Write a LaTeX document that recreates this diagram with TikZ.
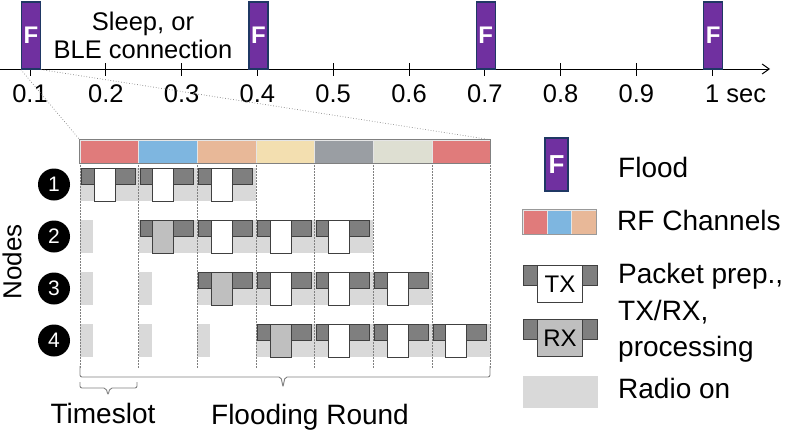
\documentclass[tikz,border=0pt]{standalone}
\usepackage{fontspec}
\setmainfont{Liberation Sans}
\usetikzlibrary{positioning,arrows.meta}

\definecolor{floodpurple}{HTML}{7030A0}
\definecolor{floodnavy}{HTML}{1F3864}
\definecolor{chred}{HTML}{E07B7B}
\definecolor{chblue}{HTML}{7EB6E0}
\definecolor{chpeach}{HTML}{E8B898}
\definecolor{chyellow}{HTML}{F3DFB0}
\definecolor{chgray}{HTML}{9A9EA3}
\definecolor{chlight}{HTML}{DEDFD2}
\definecolor{procgray}{HTML}{7F7F7F}
\definecolor{rxgray}{HTML}{BFBFBF}
\definecolor{radiogray}{HTML}{D9D9D9}
\definecolor{edgegray}{HTML}{404040}

\begin{document}
\begin{tikzpicture}[x=1pt, y=-1pt, every node/.style={inner sep=0pt},
    flood/.style={draw=floodnavy, line width=1.2pt, fill=floodpurple, text=white,
        minimum width=19pt, minimum height=67pt, font=\fontsize{24}{24}\selectfont\bfseries},
    chan/.style={draw=white!80!gray, line width=0.5pt, minimum width=58.65pt, minimum height=23pt},
    tile/.style={draw=edgegray, line width=0.9pt},
    slotline/.style={draw=gray, line width=0.7pt, dash pattern=on 2pt off 1pt},
    bracket/.style={draw=gray, line width=0.9pt, rounded corners=2pt},
    nodenum/.style={circle, fill=black, text=white, minimum size=32pt, font=\fontsize{21}{21}\selectfont},
    txt/.style={font=\fontsize{28}{36.5}\selectfont}]
\useasboundingbox (0,0) rectangle (789,432);

% time axis with floods
\draw[line width=1pt, -{Straight Barb[length=7pt,width=10pt]}] (0,69) -- (770,69);
\foreach \i/\lbl in {1/0.1,2/0.2,3/0.3,4/0.4,5/0.5,6/0.6,7/0.7,8/0.8,9/0.9,10/{1\rlap{ sec}}} {
    \pgfmathsetmacro{\x}{30+75.8*(\i-1)}
    \draw[line width=1pt] (\x,63) -- (\x,76);
    \node[anchor=base, font=\fontsize{25.5}{25.5}\selectfont] (T\i) at (\x,102) {\lbl};
}
\foreach \i in {1,4,7,10} {
    \pgfmathsetmacro{\x}{31+75.8*(\i-1)}
    \node[flood] (F\i) at (\x,35.5) {F};
}
\node[align=center, font=\fontsize{25.5}{28}\selectfont] (sleep) at (143,35) {Sleep, or\\BLE connection};

% channel bar
\foreach \c [count=\k] in {chred,chblue,chpeach,chyellow,chgray,chlight,chred} {
    \pgfmathsetmacro{\x}{80+58.65*(\k-0.5)}
    \node[chan, fill=\c] (C\k) at (\x,151.5) {};
}
\draw[gray, line width=1.2pt] (C1.north west) rectangle (C7.south east);
\draw[gray, dotted, line width=0.7pt] (F1.south west) -- (C1.north west);
\draw[gray, dotted, line width=0.7pt] (F1.south east) -- (C7.north east);

% radio on
\foreach \r/\last in {1/3,2/5,3/6,4/7} {
    \pgfmathsetmacro{\y}{168+52*(\r-1)}
    \pgfmathsetmacro{\xa}{80+58.65*(\r-1)}
    \pgfmathsetmacro{\xb}{80+58.65*\last}
    \fill[radiogray] (\xa,\y) rectangle (\xb,\y+33);
    \ifnum\r>1
        \foreach \s in {2,...,\r} {
            \pgfmathsetmacro{\xs}{80+58.65*(\s-2)}
            \fill[radiogray] (\xs,\y) rectangle (\xs+13,\y+33);
        }
    \fi
    \node[nodenum] (N\r) at (54,\y+16.5) {\r};
}

% timeslots
\foreach \s in {0,...,7} {
    \pgfmathsetmacro{\x}{80+58.65*\s}
    \draw[slotline] (\x,165) -- (\x,368);
}

% packet prep, tx/rx, processing
\foreach \r/\last in {1/3,2/5,3/6,4/7} {
    \pgfmathsetmacro{\y}{168+52*(\r-1)}
    \foreach \s in {\r,...,\last} {
        \pgfmathsetmacro{\xs}{80+58.65*(\s-1)}
        \def\tilefill{white}
        \ifnum\r>1 \ifnum\s=\r \def\tilefill{rxgray}\fi\fi
        \draw[tile, fill=procgray] (\xs+1.5,\y) rectangle (\xs+14,\y+16);
        \draw[tile, fill=procgray] (\xs+35,\y) rectangle (\xs+55,\y+16);
        \draw[tile, fill=\tilefill] (\xs+14,\y) rectangle (\xs+35,\y+33);
    }
}

\node[rotate=90, font=\fontsize{26}{26}\selectfont] (nodes) at (12,262) {Nodes};

% brackets
\draw[bracket] (80,366) -- (80,377) -- (281,377) -- (283,387) -- (285,377) -- (490,377) -- (490,366);
\draw[bracket] (80,382) -- (80,388) -- (106,388) -- (108,395) -- (110,388) -- (137,388) -- (137,382);
\node[txt, anchor=base] (slot) at (103,423) {Timeslot};
\node[txt, anchor=base] (round) at (310,424) {Flooding Round};

% legend
\node[flood, minimum width=23pt, minimum height=53pt, font=\fontsize{26}{26}\selectfont\bfseries] (legF) at (556.5,164.5) {F};
\node[txt, anchor=base west] (legflood) at (618,177) {Flood};
\foreach \c [count=\k] in {chred,chblue,chpeach} {
    \pgfmathsetmacro{\x}{523+24.3*(\k-0.5)}
    \node[chan, fill=\c, minimum width=24.3pt, minimum height=24pt] (L\k) at (\x,222) {};
}
\draw[gray!80, line width=1pt] (L1.north west) rectangle (L3.south east);
\node[txt, anchor=base west] (legchan) at (617,230) {RF Channels};
\draw[tile, fill=procgray] (523,265) rectangle (537,285);
\draw[tile, fill=procgray] (582,265) rectangle (597,285);
\node[tile, fill=white, minimum width=45pt, minimum height=37pt, anchor=north west,
    font=\fontsize{24}{24}\selectfont] (legTX) at (537,265) {TX};
\draw[tile, fill=procgray] (523,319) rectangle (537,339);
\draw[tile, fill=procgray] (582,319) rectangle (597,339);
\node[tile, fill=rxgray, minimum width=45pt, minimum height=37pt, anchor=north west,
    font=\fontsize{24}{24}\selectfont] (legRX) at (537,319) {RX};
\node[txt, align=left, anchor=west] (legpkt) at (618,313) {Packet prep.,\\TX/RX,\\processing};
\fill[radiogray] (523,376) rectangle (598,408);
\node[txt, anchor=base west] (legradio) at (618,398) {Radio on};
\end{tikzpicture}
\end{document}
